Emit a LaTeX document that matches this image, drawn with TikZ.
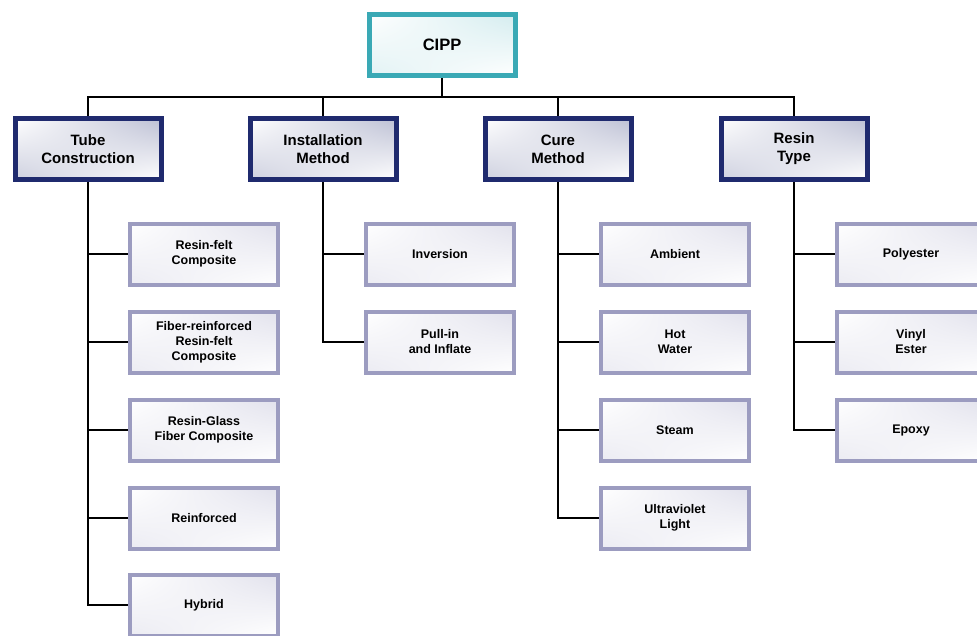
\documentclass[tikz,border=0pt]{standalone}
\usepackage{fontspec}
\setmainfont{Liberation Sans}
\usetikzlibrary{calc,shadings}

\definecolor{cippteal}{HTML}{3AA9B5}
\definecolor{headnavy}{HTML}{1F2A6E}
\definecolor{leafgrey}{HTML}{9C9CC0}

\tikzset{
  topbox/.style={draw=cippteal, line width=5pt, minimum width=146pt, minimum height=61pt,
    upper left=white, lower right=white, upper right=cippteal!22, lower left=cippteal!15,
    font=\bfseries\fontsize{16.5}{20}\selectfont},
  headbox/.style={draw=headnavy, line width=5pt, minimum width=146pt, minimum height=61pt,
    upper left=white, lower right=white, upper right=headnavy!30, lower left=headnavy!22,
    align=center, font=\bfseries\fontsize{15}{18}\selectfont},
  leafbox/.style={draw=leafgrey, line width=4pt, minimum width=148pt, minimum height=61pt,
    upper left=white, lower right=white, upper right=leafgrey!30, lower left=leafgrey!20,
    align=center, font=\bfseries\fontsize{12.5}{15}\selectfont},
  branch/.style={draw=black, line width=1.3pt}
}

\begin{document}
\begin{tikzpicture}[x=1pt, y=-1pt]
  % Page frame (same proportions as the chart)
  \useasboundingbox (0,0) rectangle (977,635);

  % Root
  \node[topbox] (cipp) at (442,45) {CIPP};
  \coordinate (bus) at (442,97);

  % First level
  \node[headbox] (tube)    at (88,149)  {Tube\\Construction};
  \node[headbox] (install) at (323,149) {Installation\\Method};
  \node[headbox] (cure)    at (558,149) {Cure\\Method};
  \node[headbox] (resin)   at (794,149) {Resin\\Type};

  % Tube construction leaves
  \node[leafbox] (resinfelt) at (204,254) {Resin-felt\\Composite};
  \node[leafbox] (fiberfelt) at (204,342) {Fiber-reinforced\\Resin-felt\\Composite};
  \node[leafbox] (resinglass) at (204,430) {Resin-Glass\\Fiber Composite};
  \node[leafbox] (reinforced) at (204,518) {Reinforced};
  \node[leafbox] (hybrid)     at (204,605) {Hybrid};

  % Installation method leaves
  \node[leafbox] (inversion) at (440,254) {Inversion};
  \node[leafbox] (pullin)    at (440,342) {Pull-in\\and Inflate};

  % Cure method leaves
  \node[leafbox] (ambient) at (675,254) {Ambient};
  \node[leafbox] (hotwater) at (675,342) {Hot\\Water};
  \node[leafbox] (steam)   at (675,430) {Steam};
  \node[leafbox] (uvlight) at (675,518) {Ultraviolet\\Light};

  % Resin type leaves
  \node[leafbox] (polyester) at (911,254) {Polyester};
  \node[leafbox] (vinyl)     at (911,342) {Vinyl\\Ester};
  \node[leafbox] (epoxy)     at (911,430) {Epoxy};

  % Root to first level
  \draw[branch] (cipp) -- (bus);
  \draw[branch] (tube.north) |- (bus) -| (resin.north);
  \draw[branch] (install.north) -- (install.north |- bus);
  \draw[branch] (cure.north) -- (cure.north |- bus);

  % Tube construction branch
  \draw[branch] (tube.south) |- (hybrid.west);
  \draw[branch] (tube.south |- resinfelt.west) -- (resinfelt.west);
  \draw[branch] (tube.south |- fiberfelt.west) -- (fiberfelt.west);
  \draw[branch] (tube.south |- resinglass.west) -- (resinglass.west);
  \draw[branch] (tube.south |- reinforced.west) -- (reinforced.west);

  % Installation branch
  \draw[branch] (install.south) |- (pullin.west);
  \draw[branch] (install.south |- inversion.west) -- (inversion.west);

  % Cure branch
  \draw[branch] (cure.south) |- (uvlight.west);
  \draw[branch] (cure.south |- ambient.west) -- (ambient.west);
  \draw[branch] (cure.south |- hotwater.west) -- (hotwater.west);
  \draw[branch] (cure.south |- steam.west) -- (steam.west);

  % Resin branch
  \draw[branch] (resin.south) |- (epoxy.west);
  \draw[branch] (resin.south |- polyester.west) -- (polyester.west);
  \draw[branch] (resin.south |- vinyl.west) -- (vinyl.west);
\end{tikzpicture}
\end{document}
